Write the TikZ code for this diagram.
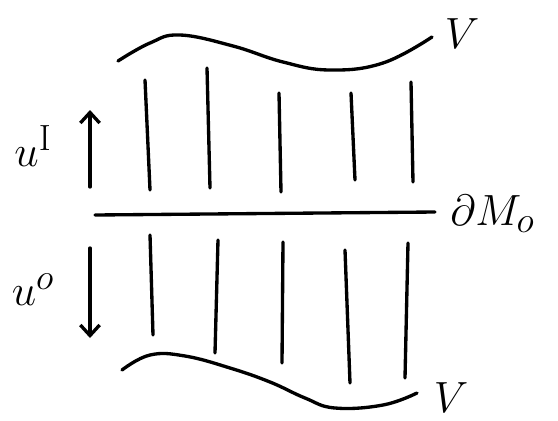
\documentclass[tikz,border=0pt]{standalone}
\usepackage{tikz}
\usetikzlibrary{arrows.meta}
\usepackage{amsmath}

\begin{document}
\begin{tikzpicture}[x=0.02cm,y=-0.02cm,
  stroke/.style={line width=1.9pt,line cap=round,line join=round},
  flow/.style={stroke,-{Straight Barb[length=6pt,width=11pt]}},
  lbl/.style={font=\fontsize{28}{30}\selectfont,inner sep=0pt},
]
\useasboundingbox (0,0) rectangle (558,420);
% upper wavy edge V
\draw[stroke] plot[smooth,tension=0.7] coordinates
  {(118,61) (150,43) (180,35) (233,46) (283,62) (330,70) (383,63) (432,37)};
\node[lbl] (vtop) at (462,34) {$V$};
% boundary dM_o
\draw[stroke] (95,215) -- (435,212);
\node[lbl,anchor=west] (bdry) at (450,214) {$\partial M_o$};
% lower wavy edge V
\draw[stroke] plot[smooth,tension=0.7] coordinates
  {(122,370) (150,355) (185,356) (230,368) (270,382) (305,398) (335,408) (383,405) (417,393)};
\node[lbl] (vbot) at (451,398) {$V$};
% incoming lines, above
\foreach \xa/\ya/\xb/\yb in {145/80/150/190,207/68/210/188,279/93/281/192,351/93/355/180,411/82/413/182}
  \draw[stroke] (\xa,\ya) -- (\xb,\yb);
% outgoing lines, below
\foreach \xa/\ya/\xb/\yb in {150/235/153/335,218/240/215/353,283/242/282/363,345/250/350/383,408/243/405/378}
  \draw[stroke] (\xa,\ya) -- (\xb,\yb);
% directions
\coordinate (inA) at (90,187);
\coordinate (inB) at (90,110);
\draw[flow] (inA) -- (inB);
\node[lbl] (uin) at (33,146) {$u^{\mathrm{I}}$};
\coordinate (outA) at (90,248);
\coordinate (outB) at (90,338);
\draw[flow] (outA) -- (outB);
\node[lbl] (uout) at (33,290) {$u^{o}$};
\end{tikzpicture}
\end{document}
